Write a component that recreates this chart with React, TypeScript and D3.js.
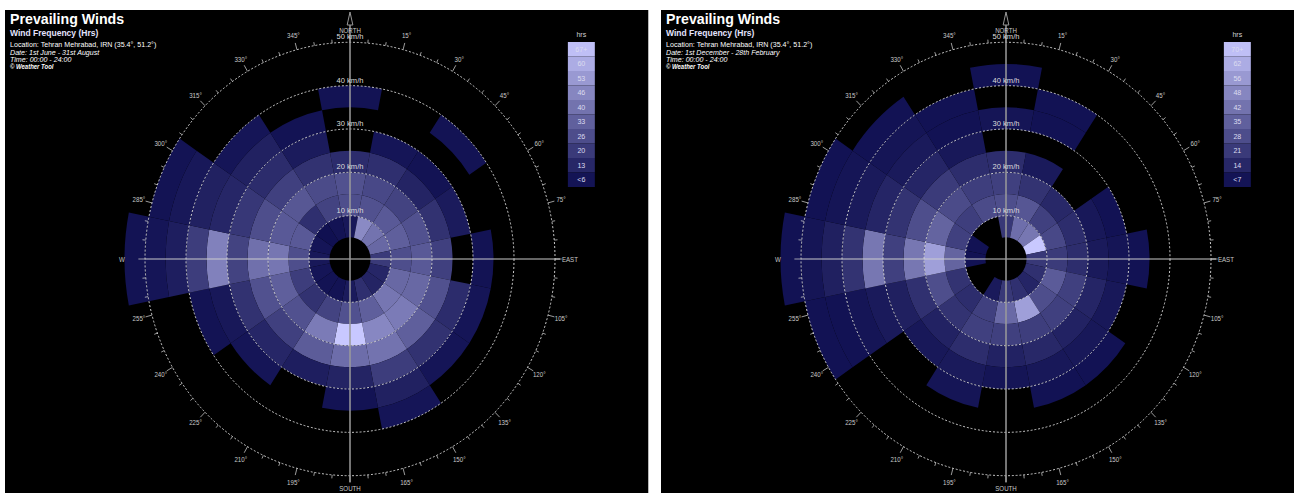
import React from 'react';
import * as d3 from 'd3';

// compass sectors, clockwise from north
const directions = ['N', 'NNE', 'NE', 'ENE', 'E', 'ESE', 'SE', 'SSE', 'S', 'SSW', 'SW', 'WSW', 'W', 'WNW', 'NW', 'NNW'];
// speed bin lower edges (km/h), each bin 5 km/h wide
const speedBins = [5, 10, 15, 20, 25, 30, 35, 40, 45, 50];
const ringSpeeds = [10, 20, 30, 40, 50];

// hours per direction (rows) and speed bin (columns), 1st June - 31st August
const summerHours = [
  [5, 24, 25, 12, 0, 0, 3, 0, 0, 0],
  [45, 25, 22, 13, 4, 0, 0, 0, 0, 0],
  [37, 28, 20, 9, 3, 0, 3, 0, 0, 0],
  [33, 30, 25, 14, 6, 0, 0, 0, 0, 0],
  [17, 24, 28, 19, 0, 3, 0, 0, 0, 0],
  [10, 33, 33, 25, 12, 4, 0, 0, 0, 0],
  [9, 38, 40, 30, 14, 4, 0, 0, 0, 0],
  [13, 30, 44, 37, 18, 8, 4, 0, 0, 0],
  [6, 25, 67, 35, 9, 3, 0, 0, 0, 0],
  [3, 20, 40, 29, 7, 0, 0, 0, 0, 0],
  [3, 14, 25, 19, 10, 4, 0, 0, 0, 0],
  [4, 18, 30, 25, 14, 5, 3, 0, 0, 0],
  [5, 24, 38, 36, 20, 42, 18, 7, 4, 3],
  [4, 28, 28, 24, 16, 10, 8, 5, 3, 0],
  [2, 13, 27, 19, 12, 8, 4, 0, 0, 0],
  [3, 20, 23, 14, 6, 3, 0, 0, 0, 0],
];

// 1st December - 28th February
const winterHours = [
  [17, 25, 20, 13, 0, 4, 0, 3, 0, 0],
  [37, 28, 15, 6, 0, 3, 3, 0, 0, 0],
  [40, 20, 11, 0, 0, 0, 0, 0, 0, 0],
  [70, 23, 13, 5, 3, 0, 0, 0, 0, 0],
  [17, 18, 13, 6, 4, 3, 0, 0, 0, 0],
  [14, 30, 20, 10, 5, 0, 0, 0, 0, 0],
  [10, 25, 20, 9, 5, 3, 0, 0, 0, 0],
  [14, 55, 19, 11, 5, 3, 0, 0, 0, 0],
  [17, 35, 20, 9, 4, 0, 0, 0, 0, 0],
  [6, 20, 20, 13, 6, 4, 0, 0, 0, 0],
  [0, 13, 15, 9, 5, 0, 0, 0, 0, 0],
  [0, 15, 25, 14, 8, 6, 4, 3, 3, 0],
  [3, 33, 55, 40, 20, 40, 15, 8, 4, 3],
  [3, 20, 33, 25, 15, 10, 6, 4, 3, 0],
  [0, 19, 24, 18, 10, 6, 4, 3, 0, 0],
  [0, 24, 19, 13, 5, 3, 3, 0, 0, 0],
];

const summerLegend = ['67+', '60', '53', '46', '40', '33', '26', '20', '13', '<6'];
const winterLegend = ['70+', '62', '56', '48', '42', '35', '28', '21', '14', '<7'];

const FONT = '"Liberation Sans", Arial, sans-serif';
const SX = 0.946; // the source picture is squeezed horizontally
const CX = 364.7;
const CY = 249;

interface PanelProps {
  x: number;
  hours: number[][];
  legend: string[];
  maxHours: number;
  dateText: string;
}

const Panel: React.FC<PanelProps> = ({ x, hours, legend, maxHours, dateText }) => {
  const r = d3.scaleLinear().domain([0, 50]).range([0, 216.7]);
  const color = d3.scaleLinear<string>()
    .domain([0, maxHours])
    .range(['#0a0a4c', '#c8c8ff'])
    .clamp(true);
  const step = (2 * Math.PI) / directions.length;
  const arc = d3.arc<any>();

  const cells: JSX.Element[] = [];
  hours.forEach((row, di) => {
    row.forEach((v, si) => {
      if (!v) return;
      const lo = speedBins[si];
      const d = arc({
        innerRadius: r(lo),
        outerRadius: r(lo + 5),
        startAngle: (di - 0.5) * step,
        endAngle: (di + 0.5) * step,
      });
      cells.push(<path key={`${di}-${si}`} d={d || ''} fill={color(v)} />);
    });
  });

  const rad = (deg: number) => (deg * Math.PI) / 180;
  const outer = r(50);

  const legendX = 595;
  const legendTop = 32;
  const cellH = 14.5;

  return (
    <g transform={`translate(${x},10) scale(${SX},1)`} fontFamily={FONT}>
      <rect x={0} y={0} width={680} height={490} fill="#000" />

      <g transform={`translate(${CX},${CY})`}>
        {cells}

        {ringSpeeds.map(s => (
          <circle key={s} r={r(s)} fill="none" stroke="#d4d4d4" strokeWidth={1} strokeDasharray="2,2" />
        ))}

        {d3.range(0, 360, 5).map(deg => {
          const major = deg % 15 === 0;
          const r1 = outer;
          const r2 = outer + (major ? 7 : 3.5);
          return (
            <line key={deg}
              x1={r1 * Math.sin(rad(deg))} y1={-r1 * Math.cos(rad(deg))}
              x2={r2 * Math.sin(rad(deg))} y2={-r2 * Math.cos(rad(deg))}
              stroke="#c8c8c8" strokeWidth={0.8} />
          );
        })}

        {d3.range(15, 360, 15).filter(d => d % 90 !== 0).map(deg => (
          <text key={deg} x={231 * Math.sin(rad(deg))} y={-231 * Math.cos(rad(deg))}
            fontSize={6.5} fill="#c8c8c8" textAnchor="middle" dominantBaseline="central">
            {deg}°
          </text>
        ))}

        <line x1={-outer} y1={0} x2={222} y2={0} stroke="#d0d0d0" strokeWidth={1} />
        <line x1={0} y1={-245} x2={0} y2={223} stroke="#9a9a9a" strokeWidth={1.6} />
        <path d="M0,-247 L-3,-234 L3,-234 Z" fill="#000" stroke="#9a9a9a" strokeWidth={1} />

        {ringSpeeds.map(s => (
          <text key={s} x={0} y={-r(s) - 3} fontSize={8} fill="#dcdcdc" textAnchor="middle">
            {s} km/h
          </text>
        ))}

        <text x={0} y={-229} fontSize={6.5} fill="#c8c8c8" textAnchor="middle" dominantBaseline="central">NORTH</text>
        <text x={0} y={229} fontSize={6.5} fill="#c8c8c8" textAnchor="middle" dominantBaseline="central">SOUTH</text>
        <text x={224} y={0} fontSize={6.5} fill="#c8c8c8" textAnchor="start" dominantBaseline="central">EAST</text>
        <text x={-241} y={0} fontSize={6.5} fill="#c8c8c8" textAnchor="middle" dominantBaseline="central">W</text>
      </g>

      <text x={5.3} y={14} fontSize={15} fontWeight="bold" fill="#fff">Prevailing Winds</text>
      <text x={5.3} y={26} fontSize={9} fontWeight="bold" fill="#e4e4ff">Wind Frequency (Hrs)</text>
      <text x={5.3} y={37} fontSize={7.5} fill="#fff">Location: Tehran Mehrabad, IRN (35.4°, 51.2°)</text>
      <text x={5.3} y={45} fontSize={7.5} fontStyle="italic" fill="#fff">{dateText}</text>
      <text x={5.3} y={52.5} fontSize={7.5} fontStyle="italic" fill="#fff">Time: 00:00 - 24:00</text>
      <text x={5.3} y={59.5} fontSize={6.3} fontStyle="italic" fontWeight="bold" fill="#fff">© Weather Tool</text>

      <text x={legendX + 14.25} y={27} fontSize={7.5} fill="#d0d0d0" textAnchor="middle">hrs</text>
      {legend.map((label, i) => {
        const level = legend.length - 1 - i;
        return (
          <g key={label}>
            <rect x={legendX} y={legendTop + i * cellH} width={28.5} height={cellH}
              fill={color(((level + 0.5) / legend.length) * maxHours)} />
            <text x={legendX + 14.25} y={legendTop + i * cellH + cellH / 2} fontSize={7.5}
              fill="#dcdcf0" textAnchor="middle" dominantBaseline="central">{label}</text>
          </g>
        );
      })}
    </g>
  );
};

export default function App() {
  return (
    <svg width={1294} height={493} style={{ position: 'absolute', left: 0, top: 0, background: '#fff' }}>
      <Panel x={5} hours={summerHours} legend={summerLegend} maxHours={67}
        dateText="Date: 1st June - 31st August" />
      <Panel x={661} hours={winterHours} legend={winterLegend} maxHours={70}
        dateText="Date: 1st December - 28th February" />
    </svg>
  );
}
